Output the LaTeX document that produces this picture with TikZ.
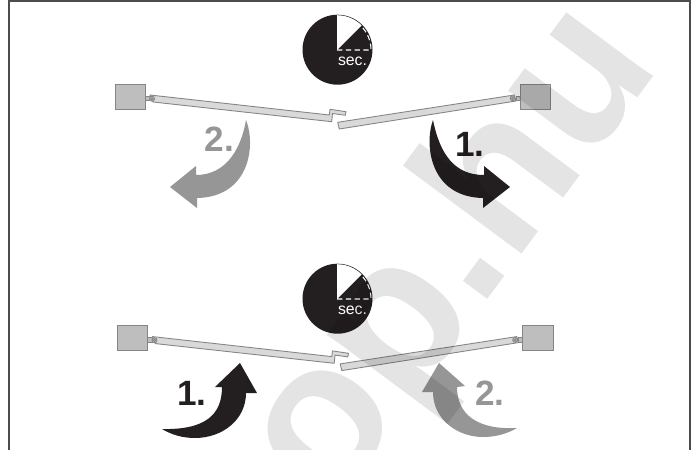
\documentclass[tikz,border=0pt]{standalone}
\usepackage{fontspec}
\setmainfont{Liberation Sans}
\definecolor{darkarrow}{HTML}{231F20}
\definecolor{greyarrow}{HTML}{969696}
\definecolor{motorgrey}{HTML}{BEBEBE}
\definecolor{leafgrey}{HTML}{D9D9D9}
\definecolor{edgegrey}{HTML}{858585}
\definecolor{markgrey}{HTML}{E4E4E4}
\tikzset{
  motorbox/.style={fill=motorgrey,draw=edgegrey,line width=0.5pt},
  leafbar/.style={fill=leafgrey,draw=edgegrey,line width=0.5pt,line join=round},
  stepnum/.style={font=\fontsize{20}{20}\selectfont\bfseries,inner sep=0pt,anchor=base},
  darkturn/.style={fill=darkarrow},
  greyturn/.style={fill=greyarrow}
}
\begin{document}
\begin{tikzpicture}[x=0.02cm,y=-0.02cm]
  \useasboundingbox (0,0) rectangle (694,450);
  \fill[white] (0,0) rectangle (694,450);
  \draw[line width=1pt,color=black!70] (9,450)--(9,1)--(690,1)--(690,450);
  % the two timers
  \foreach \cy/\row in {0/up,249/dn}{
    \begin{scope}[yshift=-\cy*0.02cm]
      \fill[darkarrow] (337.5,49.7) circle (35);
      \fill[white] (337,50)--(337,15.2) arc[start angle=-90,end angle=-45,radius=34.8]--cycle;
      \draw[white,densely dashed,line width=0.6pt] (337,50)--(371,50) arc[start angle=0,end angle=-45,radius=34];
      \node[white,font=\fontsize{9}{9}\selectfont,inner sep=0pt,anchor=base] (sec\row) at (352.5,65.7) {sec.};
    \end{scope}
  }
  % the two pairs of gate leaves
  \foreach \dx/\dy in {0/0,2.5/241.6}{
    \begin{scope}[shift={(\dx,\dy)}]
      \draw[motorbox] (115,84.3) rectangle (145,109.3);
      \draw[motorbox] (145,96) rectangle (150,100.7);
      \draw[leafbar] (150,95)--(329.3,115)--(330,109.3)--(346,111.7)--(345.3,115.3)--(332.5,113.5)--(331.7,121.7)--(153,102)--cycle;
      \draw[leafbar,fill=motorgrey] (152,98.7) circle (2.5);
      \draw[edgegrey,line width=0.4pt] (152,98.7) circle (1.1);
      \draw[motorbox] (520,84.3) rectangle (550.7,109.3);
      \draw[motorbox] (516,96) rectangle (520,100.7);
      \draw[leafbar] (337.7,122.3)--(514.3,95)--(516,101)--(339.3,129)--cycle;
      \draw[leafbar,fill=motorgrey] (512.7,98.3) circle (2.5);
      \draw[edgegrey,line width=0.4pt] (512.7,98.3) circle (1.1);
    \end{scope}
  }
  % turning arrows
  \fill[greyturn] (246,120) .. controls (256,145) and (250,197) .. (197,198)--(197,208)--(170,187)--(196,166)--(196,175) .. controls (222,175) and (240,155) .. cycle;
  \fill[darkturn] (433,120) .. controls (424,145) and (430,197) .. (483,198)--(483,208)--(510,187)--(484,166)--(484,175) .. controls (455,175) and (440,155) .. cycle;
  \fill[darkturn] (240,363)--(257,393)--(246,393) .. controls (246,420) and (222,438) .. (195,438) .. controls (183,438) and (172,435) .. (162,429) .. controls (205,430) and (222,415) .. (222,387)--(215,387)--cycle;
  \fill[greyturn] (439,363)--(422,392)--(433,392) .. controls (433,420) and (458,437) .. (483,437) .. controls (495,437) and (507,434) .. (517,428) .. controls (478,430) and (457,415) .. (457,387)--(465,386)--cycle;
  \node[stepnum,greyarrow] (stepa) at (219.5,151) {2.};
  \node[stepnum,darkarrow] (stepb) at (470,156) {1.};
  \node[stepnum,darkarrow] (stepc) at (192,405) {1.};
  \node[stepnum,greyarrow] (stepd) at (490,405) {2.};
  % watermark over everything
  \begin{scope}[blend mode=multiply]
    \node[markgrey,font=\fontsize{116}{116}\selectfont\bfseries,inner sep=0pt,anchor=base west,rotate=53.4] (mark) at (331,511) {op.hu};
  \end{scope}
\end{tikzpicture}
\end{document}
